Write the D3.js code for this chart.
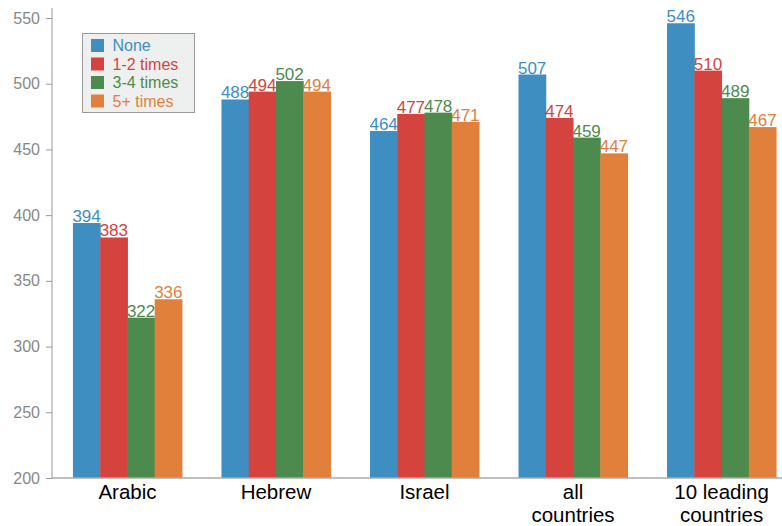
<!DOCTYPE html>
<html><head><meta charset="utf-8">
<script src="https://cdn.jsdelivr.net/npm/d3@7"></script>
<style>
body{margin:0;background:#fff;overflow:hidden}
text{font-family:"Liberation Sans",Arial,Helvetica,sans-serif}
</style></head>
<body><svg id="c" width="782" height="526"></svg>
<script>
const categories = [["Arabic"],["Hebrew"],["Israel"],["all","countries"],["10 leading","countries"]];
const seriesNames = ["None","1-2 times","3-4 times","5+ times"];
const seriesColors = ["#3e8ec1","#d5433f","#4d8a4d","#e1803b"];
const none = [394,488,464,507,546];
const times12 = [383,494,477,474,510];
const times34 = [322,502,478,459,489];
const times5 = [336,494,471,447,467];
const yTicks = [200,250,300,350,400,450,500,550];

const values = [none,times12,times34,times5];
const svg = d3.select("#c");
const x0 = d3.scaleBand().domain(d3.range(categories.length)).range([52,797]).paddingInner(0.266).paddingOuter(0.141);
const x1 = d3.scaleBand().domain(d3.range(seriesNames.length)).range([0,x0.bandwidth()]);
const y = d3.scaleLinear().domain([200,550]).range([478,18]);

// bars
const g = svg.append("g");
categories.forEach((c,i)=>{
  values.forEach((s,j)=>{
    const xx = x0(i)+x1(j);
    g.append("rect").attr("x",xx).attr("y",y(s[i])).attr("width",x1.bandwidth()+0.5)
      .attr("height",y(200)-y(s[i])).attr("fill",seriesColors[j]);
  });
});
categories.forEach((c,i)=>{
  values.forEach((s,j)=>{
    const xx = x0(i)+x1(j)+x1.bandwidth()/2;
    g.append("text").attr("x",xx).attr("y",y(s[i])-1).attr("text-anchor","middle")
      .attr("font-size",17).attr("fill",seriesColors[j]).text(s[i]);
  });
});

// y axis
const ya = svg.append("g").attr("transform","translate(52,0)")
  .call(d3.axisLeft(y).tickValues(yTicks).tickSize(6).tickPadding(6).tickSizeOuter(0));
ya.select(".domain").attr("stroke","#999").attr("d","M0,478V8");
ya.selectAll(".tick line").attr("stroke","#999");
ya.selectAll(".tick text").attr("fill","#888").attr("font-size",16).attr("font-family","Liberation Sans, Arial, sans-serif");

// x axis
const xa = svg.append("g").attr("transform","translate(0,478)");
xa.append("line").attr("x1",52).attr("x2",782).attr("stroke","#aaa").attr("stroke-width",1.5);
categories.forEach((c,i)=>{
  const t = xa.append("text").attr("x",x0(i)+x0.bandwidth()/2).attr("y",21)
    .attr("text-anchor","middle").attr("font-size",20.5).attr("fill","#000");
  c.forEach((line,k)=>{
    t.append("tspan").attr("x",x0(i)+x0.bandwidth()/2).attr("dy",k===0?0:23).text(line);
  });
});

// legend
const lg = svg.append("g").attr("transform","translate(82.5,33.5)");
lg.append("rect").attr("x",0).attr("y",0).attr("width",112).attr("height",79)
  .attr("fill","#eef0ef").attr("stroke","#999").attr("stroke-width",1);
seriesNames.forEach((n,j)=>{
  lg.append("rect").attr("x",8.5).attr("y",5.5+j*18.5).attr("width",13).attr("height",13).attr("fill",seriesColors[j]);
  lg.append("text").attr("x",30).attr("y",17.5+j*18.5).attr("font-size",16).attr("fill",seriesColors[j]).text(n);
});
</script></body></html>
